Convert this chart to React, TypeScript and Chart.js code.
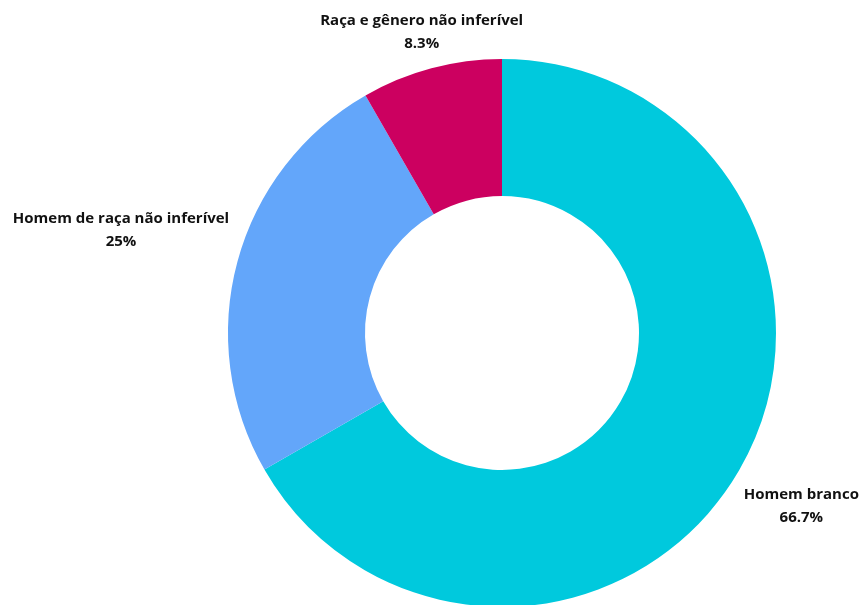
import React, { useEffect, useRef } from "react";
import { Chart, registerables } from "chart.js";

Chart.register(...registerables);

const categories = ["Homem branco", "Homem de raça não inferível", "Raça e gênero não inferível"];
const values = [66.7, 25, 8.3];
const valueLabels = ["66.7%", "25%", "8.3%"];
const colors = ["#00C9DD", "#63A6FA", "#CC0060"];

const labelPlugin = {
  id: "outerLabels",
  afterDraw(chart: any) {
    const ctx = chart.ctx;
    const meta = chart.getDatasetMeta(0);
    const gaps = [12, 11, -8];
    ctx.save();
    ctx.font = "bold 15px 'Open Sans'";
    ctx.fillStyle = "#111111";
    ctx.textAlign = "center";
    ctx.textBaseline = "middle";
    meta.data.forEach((arc: any, i: number) => {
      const p = arc.getProps(["x", "y", "startAngle", "endAngle", "outerRadius"], true);
      const mid = (p.startAngle + p.endAngle) / 2;
      const l1 = categories[i];
      const l2 = valueLabels[i];
      const w = Math.max(ctx.measureText(l1).width, ctx.measureText(l2).width);
      const hw = w / 2;
      const hh = 20;
      const c = Math.cos(mid);
      const s = Math.sin(mid);
      const d = p.outerRadius + gaps[i] + Math.abs(c) * hw + Math.abs(s) * hh;
      const cx = p.x + c * d;
      const cy = p.y + s * d;
      ctx.fillText(l1, cx, cy - 11.5);
      ctx.fillText(l2, cx, cy + 11.5);
    });
    ctx.restore();
  },
};

export default function App() {
  const ref = useRef<HTMLCanvasElement | null>(null);
  useEffect(() => {
    document.body.style.overflow = "hidden";
    const chart = new Chart(ref.current as HTMLCanvasElement, {
      type: "doughnut",
      data: {
        labels: categories,
        datasets: [
          {
            data: values,
            backgroundColor: colors,
            borderWidth: 0,
          },
        ],
      },
      options: {
        responsive: false,
        animation: false,
        cutout: "50%",
        layout: { padding: { left: 228, right: 86, top: 59, bottom: 13 } },
        plugins: {
          legend: { display: false },
          tooltip: { enabled: false },
        },
      },
      plugins: [labelPlugin],
    });
    return () => chart.destroy();
  }, []);
  return (
    <div style={{ position: "absolute", left: 0, top: 0, width: 862, height: 605, overflow: "hidden", background: "#fff" }}>
      <canvas ref={ref} width={862} height={620} style={{ width: 862, height: 620, display: "block" }} />
    </div>
  );
}
